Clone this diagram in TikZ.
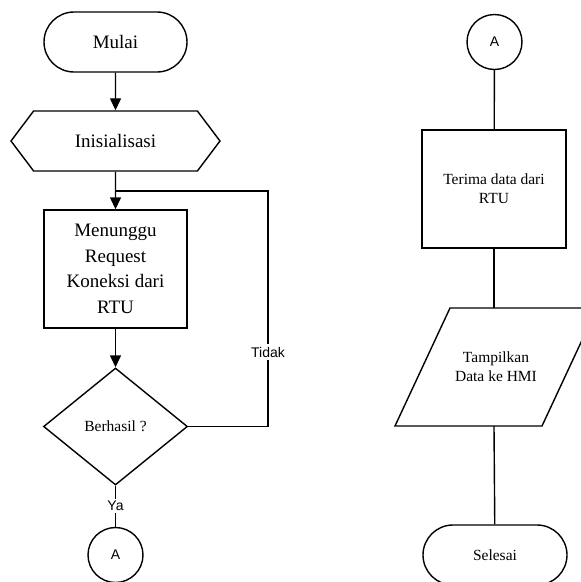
\documentclass[tikz,border=0pt]{standalone}
\usepackage{fontspec}
\setmainfont{Liberation Serif}
\newfontfamily\labelfont{Liberation Sans}
\usetikzlibrary{shapes.geometric,shapes.symbols,arrows.meta}

\begin{document}
\begin{tikzpicture}[>={Triangle[length=12pt,width=11pt]},x=1pt,y=-1pt,line width=1.4pt,
    terminal/.style={draw,rectangle,rounded corners=30pt,minimum width=143pt,minimum height=60pt},
    proses/.style={draw,rectangle,minimum width=144pt,minimum height=118pt,align=center,inner sep=2pt},
    persiapan/.style={draw,signal,signal to=west and east,signal pointer angle=106,minimum width=209pt,minimum height=60pt,inner sep=0pt},
    keputusan/.style={draw,diamond,aspect=1.23,minimum width=144pt,minimum height=117pt,inner sep=0pt},
    konektor/.style={draw,circle,minimum size=55pt,inner sep=0pt,font=\labelfont\fontsize{14}{16}\selectfont},
    besar/.style={font=\fontsize{19}{25.5}\selectfont},
    kecil/.style={font=\fontsize{15.5}{19}\selectfont},
    ket/.style={fill=white,inner sep=2.5pt,font=\labelfont\fontsize{14}{16}\selectfont}]
    \useasboundingbox (0,0) rectangle (581,582);
    % kolom kiri
    \node[terminal,besar] (mulai) at (115.5,42) {Mulai};
    \node[persiapan,besar] (init) at (115.5,141) {Inisialisasi};
    \node[proses,besar,minimum width=143pt] (tunggu) at (115.5,269) {Menunggu\\Request\\Koneksi dari\\RTU};
    \node[keputusan,kecil] (cek) at (115.5,426.5) {Berhasil ?};
    \node[konektor] (a1) at (115.5,555) {A};
    \coordinate (gabung) at (115.5,191);
    \coordinate (sudut) at (268,191);
    \draw[->] (mulai) -- (init);
    \draw[->] (init) -- (tunggu);
    \draw[->] (tunggu) -- (cek);
    \draw (cek) -- (a1);
    \draw (cek.east) -| (sudut) -- (gabung);
    \node[ket] (ya) at (115.5,506) {Ya};
    \node[ket] (tidak) at (268,352) {Tidak};
    % kolom kanan
    \node[konektor] (a2) at (494.5,42) {A};
    \node[proses,kecil] (terima) at (494,189) {Terima data dari\\RTU};
    \node[kecil,align=center] (tampil) at (496,367) {Tampilkan\\Data ke HMI};
    \draw (395,426) -- (450,308) coordinate (tampilkiri) -- (597,308) -- (542,426) -- cycle;
    \coordinate (tampilatas) at (494,308);
    \coordinate (tampilbawah) at (494,426);
    \node[terminal,kecil,minimum width=144pt] (selesai) at (495,555) {Selesai};
    \draw (a2) -- (terima);
    \draw (terima) -- (tampilatas);
    \draw (tampilbawah) -- (selesai);
\end{tikzpicture}
\end{document}
